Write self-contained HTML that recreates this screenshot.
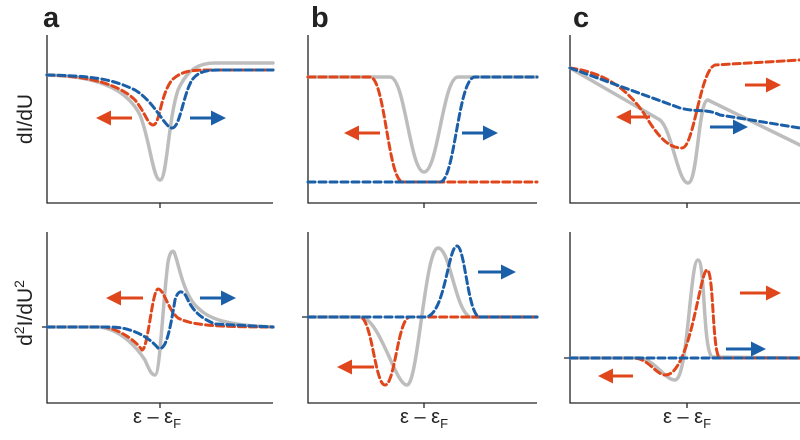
<!DOCTYPE html><html><head><style>body{margin:0;background:#fff}svg{display:block}text{font-family:"Liberation Sans",sans-serif;fill:#222}</style></head><body>
<svg width="800" height="440" viewBox="0 0 800 440">
<defs>
<marker id="ar" viewBox="0 0 10 10" refX="8" refY="5" markerWidth="5" markerHeight="5" orient="auto"><path d="M0,0L10,5L0,10z" fill="#e0461b"/></marker>
<marker id="ab" viewBox="0 0 10 10" refX="8" refY="5" markerWidth="5" markerHeight="5" orient="auto"><path d="M0,0L10,5L0,10z" fill="#1a5fa8"/></marker>
</defs>
<g font-weight="bold" font-size="29"><text x="43" y="27">a</text><text x="311" y="27">b</text><text x="573" y="27">c</text></g>
<text transform="translate(32,119) rotate(-90)" font-size="21" text-anchor="middle">dI/dU</text>
<text transform="translate(32,313) rotate(-90)" font-size="21" text-anchor="middle">d<tspan font-size="14" dy="-8">2</tspan><tspan dy="8">I/dU</tspan><tspan font-size="14" dy="-8">2</tspan></text>
<g font-size="20" text-anchor="middle"><text x="157" y="423">ε – ε<tspan font-size="13" dy="5">F</tspan></text><text x="424" y="423">ε – ε<tspan font-size="13" dy="5">F</tspan></text><text x="687" y="423">ε – ε<tspan font-size="13" dy="5">F</tspan></text></g>
<g stroke="#222" stroke-width="1.3" fill="none">
<path d="M47,35V203H273M160,203v5"/><path d="M308,35V203H537M424,203v5"/><path d="M570,35V203H800M687,203v5"/>
<path d="M47,232V403H273M160,403v5M42,327h5"/><path d="M308,232V403H537M424,403v5M302,317h6"/><path d="M570,232V403H800M687,403v5M564,358h6"/>
</g>
<g fill="none" stroke-linecap="round" stroke-width="3">
<g stroke="#bdbdbd" stroke-width="3.5">
<path d="M47,75C90,76 125,85 140,115C150,140 153,180 160,180C167,180 168,120 178,90C188,68 200,63 215,63L273,63"/>
<path d="M47,327L100,327C120,330 135,345 145,360C150,372 152,375 155,375C160,375 163,300 168,262C170,252 172,250 174,252C178,260 182,290 195,305C205,315 215,325 273,327"/>
<path d="M308,77L390,77C405,77 410,172 424,172C438,172 443,77 458,77L537,77"/>
<path d="M308,317L360,317C380,317 395,385 407,385C418,385 425,248 438,248C450,248 455,310 470,317L537,317"/>
<path d="M570,68L660,120C672,130 678,183 688,183C698,183 698,100 708,100L800,145"/>
<path d="M570,358L640,358C655,360 665,380 675,380C688,380 690,260 698,260C705,260 703,350 712,357L800,358"/>
</g>
<path stroke="#e0461b" stroke-dasharray="7,4" d="M47,75C90,76 120,85 135,100C145,112 148,125 153,125C160,125 160,95 172,80C180,72 190,70 205,70L273,70"/>
<path stroke="#1a5fa8" stroke-dasharray="7,4" d="M47,75C90,76 110,78 135,90C155,102 165,128 172,128C180,128 183,95 192,80C198,72 205,70 220,70L273,70"/>
<path stroke="#e0461b" stroke-dasharray="7,4" d="M47,327L105,327C120,330 135,340 142,350C148,350 152,290 158,289C164,289 168,310 178,318C190,324 205,327 273,327"/>
<path stroke="#1a5fa8" stroke-dasharray="7,4" d="M47,327L110,327C130,327 148,336 158,348C166,352 170,330 175,300C178,290 182,290 186,296C192,310 200,318 215,324L273,327"/>
<path stroke="#e0461b" stroke-dasharray="7,4" d="M308,77L370,77C385,77 388,182 403,182L537,182"/>
<path stroke="#1a5fa8" stroke-dasharray="7,4" d="M308,182L440,182C455,182 458,77 475,77L537,77"/>
<path stroke="#e0461b" stroke-dasharray="7,4" d="M308,317L360,317C372,318 375,385 385,385C395,385 398,317 410,317L537,317"/>
<path stroke="#1a5fa8" stroke-dasharray="7,4" d="M308,317L425,317C445,317 448,246 457,246C465,246 468,317 480,317L537,317"/>
<path stroke="#e0461b" stroke-dasharray="7,4" d="M570,68C600,72 625,85 645,115C660,140 670,148 682,148C694,148 700,70 715,65L800,60"/>
<path stroke="#1a5fa8" stroke-dasharray="7,4" d="M570,68L680,108C700,113 705,108 720,115L800,128"/>
<path stroke="#e0461b" stroke-dasharray="7,4" d="M570,358L635,358C650,360 655,374 665,375C690,376 700,270 707,270C714,270 712,355 720,358L800,358"/>
<path stroke="#1a5fa8" stroke-dasharray="7,4" d="M570,358L800,358"/>
</g>
<g stroke-width="3">
<path stroke="#e0461b" marker-end="url(#ar)" d="M132,118H99"/><path stroke="#1a5fa8" marker-end="url(#ab)" d="M190,118H223"/>
<path stroke="#e0461b" marker-end="url(#ar)" d="M143,298H109"/><path stroke="#1a5fa8" marker-end="url(#ab)" d="M200,298H233"/>
<path stroke="#e0461b" marker-end="url(#ar)" d="M380,133H347"/><path stroke="#1a5fa8" marker-end="url(#ab)" d="M462,133H495"/>
<path stroke="#1a5fa8" marker-end="url(#ab)" d="M478,272H513"/><path stroke="#e0461b" marker-end="url(#ar)" d="M374,367H340"/>
<path stroke="#e0461b" marker-end="url(#ar)" d="M745,85H778"/><path stroke="#e0461b" marker-end="url(#ar)" d="M650,117H619"/><path stroke="#1a5fa8" marker-end="url(#ab)" d="M710,127H745"/>
<path stroke="#e0461b" marker-end="url(#ar)" d="M740,293H778"/><path stroke="#1a5fa8" marker-end="url(#ab)" d="M726,349H763"/><path stroke="#e0461b" marker-end="url(#ar)" d="M633,376H601"/>
</g>
</svg></body></html>
